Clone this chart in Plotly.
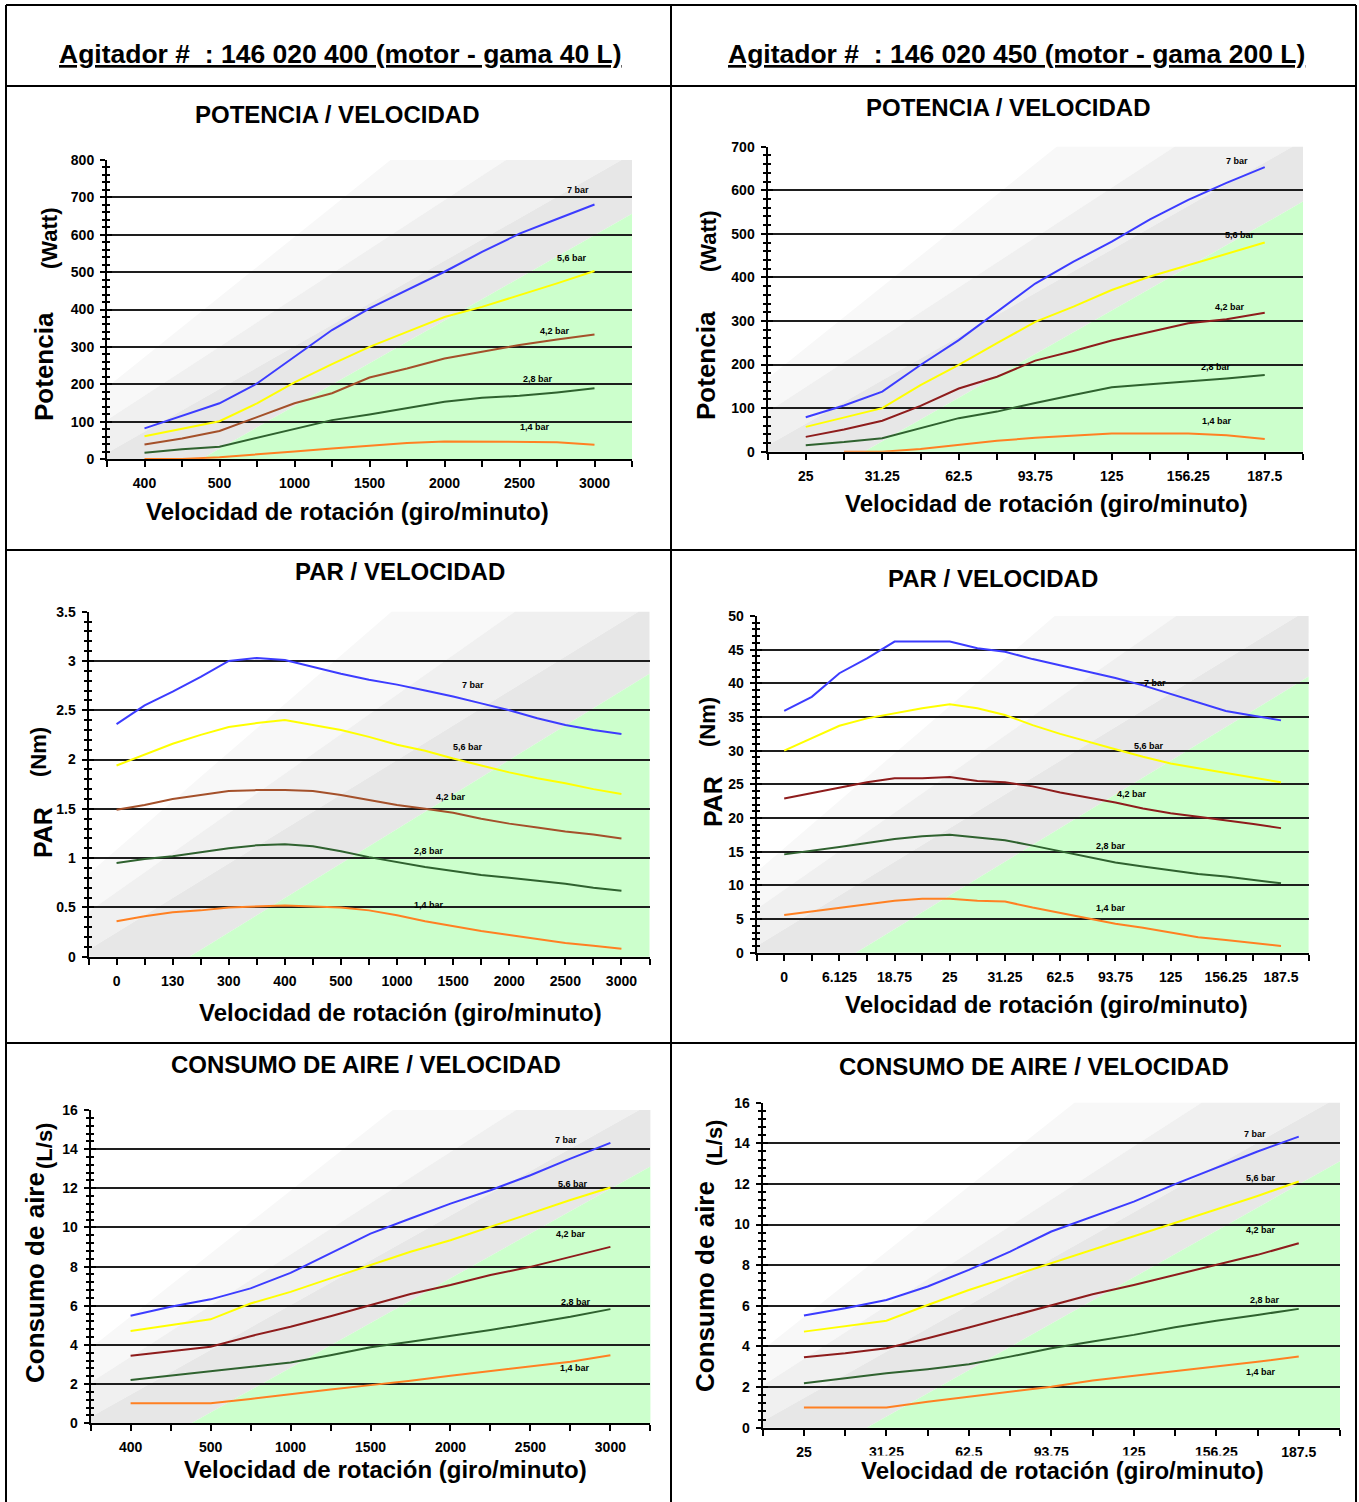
import plotly.graph_objects as go

W, H = 1359, 1502
FONT = 'Liberation Sans, Arial, sans-serif'

bars = ['7 bar', '5,6 bar', '4,2 bar', '2,8 bar', '1,4 bar']

# point positions along the category axes (labelled categories sit on whole numbers)
pos7 = [0, 0.5, 1, 1.5, 2, 2.5, 3, 3.5, 4, 4.5, 5, 5.5, 6]
pos10 = [0, 0.5, 1, 1.5, 2, 2.5, 3, 3.5, 4, 4.5, 5, 5.5, 6, 6.5, 7, 7.5, 8, 8.5, 9]

rpm_40 = ['400', '500', '1000', '1500', '2000', '2500', '3000']
rpm_200 = ['25', '31.25', '62.5', '93.75', '125', '156.25', '187.5']
rpm_par_40 = ['0', '130', '300', '400', '500', '1000', '1500', '2000', '2500', '3000']
rpm_par_200 = ['0', '6.125', '18.75', '25', '31.25', '62.5', '93.75', '125', '156.25', '187.5']

# potencia (Watt)
pot40_7 = [82, 115, 149, 202, 273, 345, 403, 452, 501, 554, 603, 642, 681]
pot40_56 = [61, 82, 101, 149, 205, 254, 300, 340, 380, 407, 438, 470, 503]
pot40_42 = [39, 55, 75, 113, 149, 176, 218, 242, 269, 287, 305, 320, 333]
pot40_28 = [17, 26, 33, 57, 82, 104, 119, 135, 153, 164, 169, 178, 189]
pot40_14 = [0, 0, 5, 12, 20, 28, 36, 43, 47, 47, 47, 45, 38]

pot200_7 = [79, 106, 138, 199, 256, 321, 386, 436, 482, 533, 578, 617, 653]
pot200_56 = [57, 79, 100, 153, 199, 249, 298, 333, 371, 402, 428, 455, 480]
pot200_42 = [34, 51, 71, 105, 145, 172, 209, 231, 255, 275, 295, 304, 319]
pot200_28 = [15, 22, 31, 54, 77, 92, 112, 130, 148, 155, 161, 168, 176]
pot200_14 = [None, 0, 0, 6, 15, 25, 32, 37, 42, 42, 42, 38, 29]

# par (Nm)
par40_7 = [2.36, 2.55, 2.69, 2.84, 3.0, 3.03, 3.01, 2.94, 2.87, 2.81, 2.76, 2.70, 2.64,
           2.57, 2.50, 2.42, 2.35, 2.30, 2.26]
par40_56 = [1.94, 2.05, 2.16, 2.25, 2.33, 2.37, 2.40, 2.35, 2.30, 2.23, 2.15, 2.09, 2.01,
            1.94, 1.87, 1.81, 1.76, 1.70, 1.65]
par40_42 = [1.49, 1.54, 1.60, 1.64, 1.68, 1.69, 1.69, 1.68, 1.64, 1.59, 1.54, 1.50, 1.46,
            1.40, 1.35, 1.31, 1.27, 1.24, 1.20]
par40_28 = [0.95, 0.99, 1.02, 1.06, 1.10, 1.13, 1.14, 1.12, 1.07, 1.01, 0.96, 0.91, 0.87,
            0.83, 0.80, 0.77, 0.74, 0.70, 0.67]
par40_14 = [0.36, 0.41, 0.45, 0.47, 0.50, 0.51, 0.52, 0.51, 0.50, 0.47, 0.42, 0.36, 0.31,
            0.26, 0.22, 0.18, 0.14, 0.11, 0.08]

par200_7 = [35.9, 38.0, 41.5, 43.7, 46.2, 46.2, 46.2, 45.2, 44.7, 43.6, 42.7, 41.7, 40.8,
            39.7, 38.4, 37.2, 35.9, 35.2, 34.5]
par200_56 = [30.0, 31.8, 33.7, 34.8, 35.6, 36.3, 36.9, 36.3, 35.3, 33.8, 32.5, 31.3, 30.2,
             29.1, 28.1, 27.4, 26.7, 26.0, 25.3]
par200_42 = [22.9, 23.7, 24.6, 25.3, 25.9, 25.9, 26.1, 25.5, 25.3, 24.7, 23.8, 23.1, 22.3,
             21.4, 20.7, 20.2, 19.7, 19.1, 18.5]
par200_28 = [14.6, 15.1, 15.7, 16.3, 16.9, 17.3, 17.5, 17.1, 16.7, 15.9, 15.1, 14.2, 13.4,
             12.8, 12.2, 11.7, 11.3, 10.8, 10.3]
par200_14 = [5.6, 6.1, 6.7, 7.2, 7.7, 8.0, 8.0, 7.7, 7.6, 6.7, 5.9, 5.0, 4.3,
             3.7, 3.0, 2.3, 1.9, 1.4, 1.0]

# consumo de aire (L/s)
aire40_7 = [5.49, 5.95, 6.33, 6.89, 7.68, 8.67, 9.69, 10.46, 11.22, 11.9, 12.67, 13.52, 14.32]
aire40_56 = [4.71, 5.02, 5.31, 6.12, 6.71, 7.40, 8.08, 8.76, 9.35, 10.03, 10.75, 11.4, 12.04]
aire40_42 = [3.45, 3.69, 3.91, 4.45, 4.93, 5.47, 6.04, 6.60, 7.06, 7.57, 7.99, 8.50, 9.01]
aire40_28 = [2.21, 2.43, 2.67, 2.89, 3.11, 3.48, 3.88, 4.16, 4.45, 4.76, 5.10, 5.44, 5.83]
aire40_14 = [1.02, 1.02, 1.02, 1.24, 1.50, 1.73, 1.95, 2.17, 2.43, 2.67, 2.89, 3.14, 3.48]

aire200_7 = [5.52, 5.88, 6.29, 6.95, 7.77, 8.67, 9.66, 10.39, 11.13, 11.99, 12.78, 13.6, 14.33]
aire200_56 = [4.73, 5.01, 5.27, 6.04, 6.78, 7.44, 8.10, 8.75, 9.41, 10.07, 10.72, 11.41, 12.12]
aire200_42 = [3.47, 3.66, 3.91, 4.40, 4.93, 5.47, 6.00, 6.57, 7.03, 7.52, 8.01, 8.51, 9.08]
aire200_28 = [2.19, 2.43, 2.68, 2.88, 3.12, 3.50, 3.91, 4.24, 4.57, 4.95, 5.27, 5.55, 5.85]
aire200_14 = [0.99, 0.99, 0.99, 1.28, 1.53, 1.77, 2.02, 2.32, 2.55, 2.76, 3.00, 3.25, 3.50]

BLUE, YELLOW, GREEN, ORANGE = '#3c3cff', '#ffff00', '#2f622f', '#ff8022'
SIENNA, MAROON = '#a4502a', '#8e1c1c'

panels = [
    dict(box=(107, 632, 160, 459), cats=rpm_40, pos=pos7,
         series=[pot40_7, pot40_56, pot40_42, pot40_28, pot40_14], brown=SIENNA,
         yticks=[0, 100, 200, 300, 400, 500, 600, 700, 800], minor=20,
         labx=[5.78, 5.70, 5.47, 5.25, 5.20], laby=[719, 537, 342, 214, 86]),
    dict(box=(767.5, 1303, 146.7, 451.7), cats=rpm_200, pos=pos7,
         series=[pot200_7, pot200_56, pot200_42, pot200_28, pot200_14], brown=MAROON,
         yticks=[0, 100, 200, 300, 400, 500, 600, 700], minor=20,
         labx=[5.64, 5.68, 5.54, 5.36, 5.37], laby=[668, 497, 333, 194, 70]),
    dict(box=(88.5, 649.5, 611.7, 956.7), cats=rpm_par_40, pos=pos10,
         series=[par40_7, par40_56, par40_42, par40_28, par40_14], brown=SIENNA,
         yticks=[0, 0.5, 1, 1.5, 2, 2.5, 3, 3.5], minor=0.1,
         labx=[6.35, 6.26, 5.97, 5.57, 5.57], laby=[2.755, 2.13, 1.617, 1.072, 0.524]),
    dict(box=(756.6, 1308.6, 616, 952.7), cats=rpm_par_200, pos=pos10,
         series=[par200_7, par200_56, par200_42, par200_28, par200_14], brown=MAROON,
         yticks=[0, 5, 10, 15, 20, 25, 30, 35, 40, 45, 50], minor=1,
         labx=[6.72, 6.60, 6.30, 5.92, 5.92], laby=[40.0, 30.7, 23.6, 15.85, 6.64]),
    dict(box=(90.6, 650.4, 1110, 1423.3), cats=rpm_40, pos=pos7,
         series=[aire40_7, aire40_56, aire40_42, aire40_28, aire40_14], brown=MAROON,
         yticks=[0, 2, 4, 6, 8, 10, 12, 14, 16], minor=0.4,
         labx=[5.45, 5.53, 5.51, 5.57, 5.56], laby=[14.45, 12.2, 9.66, 6.2, 2.8]),
    dict(box=(762.7, 1340, 1102.7, 1427.7), cats=rpm_200, pos=pos7,
         series=[aire200_7, aire200_56, aire200_42, aire200_28, aire200_14], brown=MAROON,
         yticks=[0, 2, 4, 6, 8, 10, 12, 14, 16], minor=0.4,
         labx=[5.47, 5.54, 5.54, 5.59, 5.54], laby=[14.47, 12.29, 9.74, 6.29, 2.76]),
]

# diagonal background bands, in fractions of each plot area
BANDS = [
    ('#f8f8f8', [(0, 0.24), (0.54, 1), (0.76, 1), (0, 0.13)]),
    ('#f0f0f0', [(0, 0.13), (0.76, 1), (0.98, 1), (0, 0.02)]),
    ('#e7e7e7', [(0, 0.02), (0.98, 1), (1, 1), (1, 0.82), (0.18, 0), (0, 0)]),
    ('#ccffcc', [(0.18, 0), (1, 0.82), (1, 0)]),
]


def px(x):
    return x / W


def py(y):
    return 1 - y / H


fig = go.Figure()
layout = {}
shapes = []
annotations = []

for i, p in enumerate(panels, start=1):
    x0, x1, yt, yb = p['box']
    xa, ya = f'x{i}', f'y{i}'
    n = len(p['cats'])

    for color, pts in BANDS:
        path = 'M ' + ' L '.join(
            f'{px(x0 + u * (x1 - x0)):.5f},{py(yb - v * (yb - yt)):.5f}' for u, v in pts) + ' Z'
        shapes.append(dict(type='path', path=path, xref='paper', yref='paper',
                           fillcolor=color, line=dict(width=0), layer='below'))

    colors = [BLUE, YELLOW, p['brown'], GREEN, ORANGE]
    for name, vals, c in zip(bars, p['series'], colors):
        fig.add_trace(go.Scatter(x=p['pos'], y=vals, mode='lines', name=name,
                                 line=dict(color=c, width=2),
                                 xaxis=xa, yaxis=ya, showlegend=False))
    for name, lx, ly in zip(bars, p['labx'], p['laby']):
        annotations.append(dict(x=lx, y=ly, xref=xa, yref=ya, text=f'<b>{name}</b>',
                                xanchor='center', yanchor='middle',
                                showarrow=False, font=dict(size=9, color='black')))

    half = [k * 0.5 - 0.5 for k in range(2 * n + 1)]
    text = [p['cats'][int(v)] if v == int(v) and v >= 0 else '' for v in half]
    layout[f'xaxis{i}'] = dict(
        domain=[px(x0), px(x1)], anchor=ya, range=[-0.5, n - 0.5], automargin=False,
        tickmode='array', tickvals=half, ticktext=text,
        showline=True, linecolor='black', linewidth=2,
        ticks='outside', ticklen=6, tickwidth=1.5, tickcolor='black',
        showgrid=False, zeroline=False, ticklabelstandoff=4,
        tickfont=dict(size=14, color='black', weight='bold'))
    yt_list = p['yticks']
    layout[f'yaxis{i}'] = dict(
        domain=[py(yb), py(yt)], anchor=xa, range=[0, yt_list[-1]], automargin=False,
        tickmode='array', tickvals=yt_list, ticktext=[f'{v:g}' for v in yt_list],
        showline=True, linecolor='black', linewidth=2,
        ticks='outside', ticklen=5, tickwidth=1.5, tickcolor='black',
        minor=dict(dtick=p['minor'], ticks='outside', ticklen=3, tickcolor='black', tickwidth=1.5),
        showgrid=False, zeroline=False, ticklabelstandoff=3,
        tickfont=dict(size=14, color='black', weight='bold'))
    # second copy of the value axis: inside ticks + grid lines (no line on the top edge)
    layout[f'yaxis{i + 6}'] = dict(
        overlaying=ya, anchor=xa, side='left', range=[0, yt_list[-1]], automargin=False,
        tickmode='array', tickvals=yt_list[:-1], showticklabels=False,
        ticks='inside', ticklen=5, tickwidth=1.5, tickcolor='black',
        minor=dict(dtick=p['minor'], ticks='inside', ticklen=3, tickcolor='black', tickwidth=1.5),
        showgrid=True, gridcolor='#1e1e1e', gridwidth=2, showline=False, zeroline=False)
    fig.add_trace(go.Scatter(x=[], y=[], xaxis=xa, yaxis=f'y{i + 6}', showlegend=False,
                             hoverinfo='skip'))


def text(x, y, s, size, angle=0, bg=None):
    annotations.append(dict(x=px(x), y=py(y), xref='paper', yref='paper', text=s,
                            xanchor='center', yanchor='middle',
                            showarrow=False, textangle=angle, bgcolor=bg,
                            font=dict(size=size, color='black', family=FONT)))


text(340, 54, '<b><u>Agitador #\u00a0 : 146 020 400 (motor - gama 40 L)</u></b>', 26.5)
text(1016, 54, '<b><u>Agitador #\u00a0 : 146 020 450 (motor - gama 200 L)</u></b>', 26.5)

text(337, 115, '<b>POTENCIA / VELOCIDAD</b>', 24)
text(1008, 108, '<b>POTENCIA / VELOCIDAD</b>', 24)
text(400, 571, '<b>PAR / VELOCIDAD</b>', 24)
text(993, 578, '<b>PAR / VELOCIDAD</b>', 24)
text(366, 1064, '<b>CONSUMO DE AIRE / VELOCIDAD</b>', 24)
text(1034, 1066, '<b>CONSUMO DE AIRE / VELOCIDAD</b>', 24)

for cx, cy in [(347, 511), (1046, 503), (400, 1012), (1046, 1004), (385, 1469)]:
    text(cx, cy, '<b>Velocidad de rotación (giro/minuto)</b>', 24)
# in the last panel the axis title sits over the lower half of the tick labels
text(1062, 1470, '<b>Velocidad de rotación (giro/minuto)</b>', 24, bg='white')

text(44, 367, '<b>Potencia</b>', 26, -90)
text(50, 238, '<b>(Watt)</b>', 22, -90)
text(706, 366, '<b>Potencia</b>', 26, -90)
text(708, 241, '<b>(Watt)</b>', 22, -90)
text(43, 832, '<b>PAR</b>', 25, -90)
text(38, 752, '<b>(Nm)</b>', 22, -90)
text(713, 802, '<b>PAR</b>', 25, -90)
text(707, 722, '<b>(Nm)</b>', 22, -90)
text(35, 1278, '<b>Consumo de aire</b>', 26, -90)
text(44, 1146, '<b>(L/s)</b>', 22, -90)
text(705, 1287, '<b>Consumo de aire</b>', 26, -90)
text(714, 1143, '<b>(L/s)</b>', 22, -90)

# table frame
frame = dict(color='black', width=2)
shapes.append(dict(type='line', xref='paper', yref='paper', x0=px(6), x1=px(6), y0=py(5), y1=py(1510), line=frame))
shapes.append(dict(type='line', xref='paper', yref='paper', x0=px(1356), x1=px(1356), y0=py(5), y1=py(1510), line=frame))
shapes.append(dict(type='line', xref='paper', yref='paper', x0=px(671), x1=px(671), y0=py(5), y1=py(1510), line=frame))
for yy in [5, 86, 550, 1043]:
    shapes.append(dict(type='line', xref='paper', yref='paper', x0=px(6), x1=px(1356), y0=py(yy), y1=py(yy), line=frame))

fig.update_layout(
    width=W, height=H, margin=dict(l=0, r=0, t=0, b=0, autoexpand=False),
    paper_bgcolor='white', plot_bgcolor='white',
    font=dict(family=FONT, color='black'),
    shapes=shapes, annotations=annotations, **layout)

fig.write_html('out.html', config={'displayModeBar': False},
               post_script="document.body.style.margin='0px';")
